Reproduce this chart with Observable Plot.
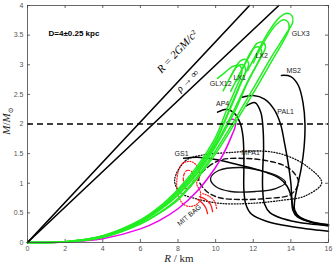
<!DOCTYPE html>
<html><head><meta charset="utf-8">
<script src="https://cdn.jsdelivr.net/npm/d3@7"></script>
<script src="https://cdn.jsdelivr.net/npm/@observablehq/plot@0.6"></script>
<style>html,body{margin:0;padding:0;background:#fff}svg{display:block}</style>
</head><body><div id="chart"></div>
<script>
// ---- data (R in km, M in solar masses) ----
const xTicks = [0,2,4,6,8,10,12,14,16];
const yTicks = [0,0.5,1,1.5,2,2.5,3,3.5,4];
const schwarzschild = [[0,0],[11.8,4]];
const rhoInf = [[0,0],[13.36,4]];
const maxMassLine = 2;

const GLX3a = [[0,0],[2,0.012],[4,0.09],[6,0.32],[7,0.5],[8,0.74],[9,1.1],[10,1.55],[11,2.06],[12,2.6],[13,3.15],[13.7,3.5],[14.1,3.72],[14.05,3.83],[13.8,3.87],[13.4,3.8],[12.8,3.55],[12.2,3.2],[11.7,2.9]];
const GLX3b = [[0,0],[2,0.011],[4,0.085],[6,0.31],[7,0.49],[8,0.72],[9,1.07],[10,1.5],[11,2.0],[12,2.52],[13,3.07],[13.55,3.37],[13.9,3.6],[13.85,3.72],[13.6,3.76],[13.2,3.67],[12.6,3.4],[12.0,3.03]];
const LX2a = [[0,0],[2,0.012],[4,0.1],[6,0.35],[7,0.55],[8,0.82],[9,1.18],[10,1.65],[11,2.25],[11.8,2.78],[12.4,3.12],[12.65,3.3],[12.5,3.38],[12.2,3.36],[11.8,3.15],[11.2,2.8],[10.8,2.55]];
const LX2b = [[0,0],[2,0.012],[4,0.1],[6,0.34],[7,0.54],[8,0.8],[9,1.15],[10,1.62],[11,2.2],[11.7,2.7],[12.25,3.04],[12.45,3.2],[12.3,3.3],[12.0,3.27],[11.6,3.05],[11.1,2.72]];
const LX1a = [[0,0],[2,0.013],[4,0.11],[6,0.37],[7,0.58],[8,0.87],[9,1.24],[10,1.72],[10.8,2.3],[11.4,2.75],[11.75,3.0],[11.6,3.09],[11.3,3.06],[10.9,2.86],[10.4,2.56]];
const LX1b = [[0,0],[2,0.013],[4,0.11],[6,0.36],[7,0.57],[8,0.85],[9,1.22],[10,1.7],[10.7,2.2],[11.3,2.65],[11.6,2.9],[11.45,3.0],[11.15,2.97],[10.8,2.8]];
const GLX12 = [[0,0],[2,0.014],[4,0.115],[6,0.38],[7,0.6],[8,0.9],[9,1.28],[10,1.78],[10.6,2.25],[11.1,2.62],[11.4,2.88],[11.25,2.99],[10.9,2.97],[10.5,2.87],[10.1,2.77]];
const MITBAG = [[0,0],[2,0.008],[4,0.065],[6,0.23],[7,0.37],[8,0.57],[9,0.86],[10,1.27],[10.5,1.55],[10.85,1.8],[11.05,1.97],[11.05,2.06],[10.85,2.08],[10.6,2.03]];

const AP4  = [[10.1,2.2],[10.6,2.25],[11.0,2.18],[11.3,2.02],[11.45,1.8],[11.5,1.5],[11.5,1.2],[11.5,0.9],[11.6,0.65],[11.9,0.48],[12.7,0.36],[14,0.27],[16,0.19]];
const MPA1 = [[11.6,2.3],[12.1,2.36],[12.4,2.2],[12.5,2.0],[12.55,1.6],[12.5,1.2],[12.5,0.9],[12.6,0.65],[12.9,0.5],[13.6,0.4],[14.6,0.33],[16,0.29]];
const PAL1 = [[11.4,2.45],[12.0,2.48],[12.6,2.42],[13.1,2.25],[13.45,2.0],[13.65,1.7],[13.85,1.35],[14.0,1.0],[14.05,0.75],[14.1,0.55],[14.35,0.43],[15.1,0.34],[16,0.3]];
const MS2  = [[13.5,2.82],[14.0,2.8],[14.4,2.65],[14.65,2.35],[14.75,2.0],[14.7,1.6],[14.55,1.25],[14.35,0.95],[14.2,0.7],[14.2,0.55],[14.5,0.42],[15.2,0.33],[16,0.28]];
const GS1  = [[8.3,1.42],[9,1.44],[10,1.4],[11,1.33],[12,1.25],[12.8,1.17],[13.4,1.08],[13.8,0.95],[14.0,0.8],[14.1,0.62],[14.3,0.47],[15,0.36],[16,0.3]];

const contourDotted = [[7.82,1.05],[8.40,1.38],[9.20,1.47],[10.8,1.52],[12.66,1.54],[13.72,1.47],[14.79,1.30],[15.64,1.01],[14.79,0.79],[13.46,0.71],[11.86,0.66],[10.27,0.66],[8.94,0.74],[8.14,0.84]];
const contourDashed = [[9.10,1.08],[9.63,1.283],[10.37,1.401],[11.6,1.418],[12.66,1.384],[13.62,1.30],[14.15,1.181],[14.41,1.013],[13.99,0.81],[12.66,0.743],[11.33,0.726],[10.16,0.759],[9.47,0.878]];
const contourSolid = [[9.73,1.08],[10.16,1.215],[11.33,1.266],[12.39,1.215],[13.35,1.114],[13.72,1.013],[13.19,0.911],[12.13,0.861],[10.8,0.861],[10.0,0.945]];
const redDotted = [[8.03,1.215],[8.24,1.333],[8.67,1.367],[9.04,1.283],[9.15,1.131],[8.99,0.996],[9.2,0.844],[9.1,0.675],[8.67,0.608],[8.24,0.658],[8.03,0.793],[7.93,0.962]];
const redDashed = [[8.30,1.13],[8.46,1.215],[8.72,1.2],[8.83,1.08],[8.67,0.945],[8.40,0.91],[8.30,1.01]];
const redArc1 = [[9.04,0.726],[9.26,0.675],[9.47,0.591],[9.57,0.489]];
const redArc2 = [[9.15,0.776],[9.47,0.726],[9.73,0.641],[9.84,0.523]];
const redArc3 = [[9.31,0.827],[9.68,0.776],[9.95,0.692],[10.05,0.574]];

const eosLabels = [
  {t:"GLX3", R:14.52, M:3.53}, {t:"LX2", R:12.45, M:3.16}, {t:"MS2", R:14.15, M:2.90},
  {t:"LX1", R:11.28, M:2.78}, {t:"GLX12", R:10.27, M:2.68}, {t:"AP4", R:10.37, M:2.35},
  {t:"PAL1", R:13.72, M:2.21}, {t:"GS1", R:8.19, M:1.50}, {t:"MPA1", R:11.86, M:1.52}
];

// ---- drawing ----
const GREEN = "#22ee22", MAG = "#ee00ee", RED = "#ff1a1a";
const L = (arr, o) => Plot.line(arr, {x: d => d[0], y: d => d[1], curve: "catmull-rom", strokeWidth: 1.5, ...o});

const plot = Plot.plot({
  width: 333, height: 266,
  marginLeft: 27, marginRight: 5, marginTop: 5, marginBottom: 24,
  x: {domain: [0, 16]},
  y: {domain: [0, 4]},
  style: {fontFamily: "'Liberation Sans', Arial, sans-serif", fontSize: "7px", background: "#fff", color: "#222"},
  marks: [
    Plot.axisX({ticks: xTicks, tickSize: 0, tickPadding: 4, label: null, fill: "#555"}),
    Plot.axisY({ticks: yTicks, tickSize: 0, tickPadding: 4, label: null, fill: "#555", tickFormat: d => String(d)}),
    Plot.tickX(xTicks, {x: d => d, insetTop: 234, stroke: "#666"}),
    Plot.tickX(xTicks, {x: d => d, insetBottom: 234, stroke: "#666"}),
    Plot.tickY(yTicks, {y: d => d, insetRight: 298, stroke: "#666"}),
    Plot.tickY(yTicks, {y: d => d, insetLeft: 298, stroke: "#666"}),
    // contours
    L(contourDotted, {curve: "catmull-rom-closed", strokeWidth: 1.3, strokeDasharray: "1,1.8", stroke: "#111"}),
    L(contourDashed, {curve: "catmull-rom-closed", strokeWidth: 1.4, strokeDasharray: "5,3", stroke: "#111"}),
    L(contourSolid, {curve: "catmull-rom-closed", strokeWidth: 1.3, stroke: "#111"}),
    L(redDotted, {curve: "catmull-rom-closed", strokeWidth: 1.2, strokeDasharray: "1,1.6", stroke: RED}),
    L(redDashed, {curve: "catmull-rom-closed", strokeWidth: 1.2, strokeDasharray: "3,2", stroke: RED}),
    L(redArc1, {strokeWidth: 1.3, stroke: RED}),
    L(redArc2, {strokeWidth: 1.3, stroke: RED}),
    L(redArc3, {strokeWidth: 1.2, strokeDasharray: "1,1.6", stroke: RED}),
    // black EOS
    ...[AP4, MPA1, PAL1, MS2, GS1].map(a => L(a, {stroke: "#000"})),
    // quark stars
    L(MITBAG, {stroke: MAG}),
    ...[GLX3a, GLX3b, LX2a, LX2b, LX1a, LX1b, GLX12].map(a => L(a, {stroke: GREEN})),
    // limits
    Plot.line(schwarzschild, {x: d => d[0], y: d => d[1], stroke: "#000", strokeWidth: 1.6}),
    Plot.line(rhoInf, {x: d => d[0], y: d => d[1], stroke: "#000", strokeWidth: 1.6}),
    Plot.ruleY([maxMassLine], {stroke: "#000", strokeWidth: 1.5, strokeDasharray: "6,4"}),
    Plot.frame({stroke: "#444", strokeWidth: 0.8}),
    // labels
    Plot.text(eosLabels, {x: "R", y: "M", text: "t", fontSize: 7, fill: "#222"}),
    Plot.text(["MIT BAG"], {x: 8.6, y: 0.46, rotate: -40, fontSize: 7, fill: "#222"}),
    Plot.text(["D=4\u00b10.25 kpc"], {x: 2.47, y: 3.53, fontSize: 8, fontWeight: "bold", fill: "#000"}),
    Plot.text(["R = 2GM/c\u00b2"], {x: 7.95, y: 3.22, rotate: -47, fontSize: 11, fontStyle: "italic", fontFamily: "'Liberation Serif', 'DejaVu Serif', serif", fill: "#000"}),
    Plot.text(["\u03c1 \u2192 \u221e"], {x: 8.5, y: 2.73, rotate: -45, fontSize: 10, fontStyle: "italic", fontFamily: "'Liberation Serif', 'DejaVu Serif', serif", fill: "#000"})
  ]
});
document.getElementById("chart").appendChild(plot);

const svg = d3.select(plot);
const xl = svg.append("text").attr("x", 179).attr("y", 262).attr("text-anchor", "middle")
  .attr("font-family", "'Liberation Serif', 'DejaVu Serif', serif").attr("font-size", 11).attr("fill", "#222");
xl.append("tspan").attr("font-style", "italic").text("R");
xl.append("tspan").text(" / km");
const yl = svg.append("text").attr("transform", "translate(10,121) rotate(-90)").attr("text-anchor", "middle")
  .attr("font-family", "'Liberation Serif', 'DejaVu Serif', serif").attr("font-size", 11).attr("fill", "#222");
yl.append("tspan").attr("font-style", "italic").text("M");
yl.append("tspan").text("/");
yl.append("tspan").attr("font-style", "italic").text("M");
yl.append("tspan").attr("font-size", 7).attr("dy", 2.5).text("\u2299");
</script></body></html>
